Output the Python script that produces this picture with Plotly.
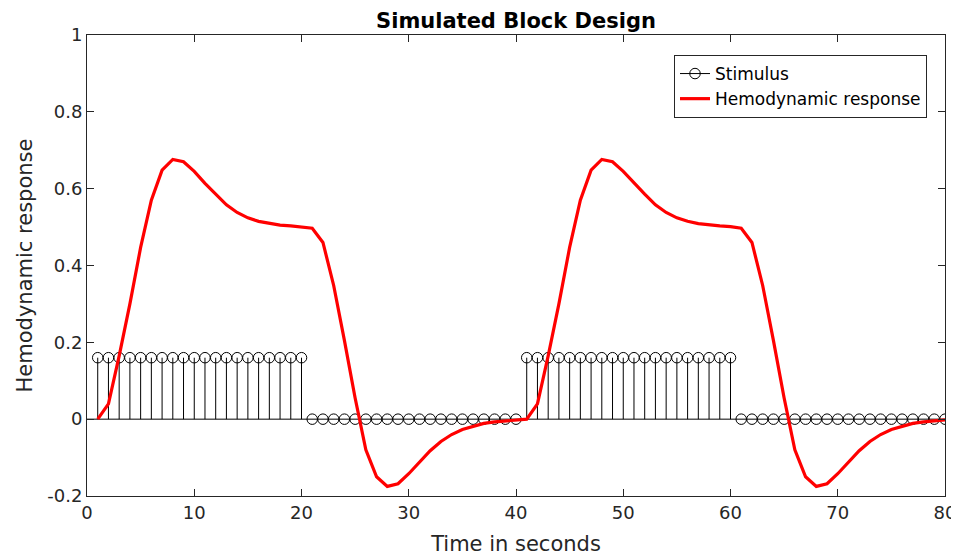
import plotly.graph_objects as go

# ---- data ----
time_s = [1, 2, 3, 4, 5, 6, 7, 8, 9, 10, 11, 12, 13, 14, 15, 16, 17, 18, 19, 20,
          21, 22, 23, 24, 25, 26, 27, 28, 29, 30, 31, 32, 33, 34, 35, 36, 37, 38, 39, 40,
          41, 42, 43, 44, 45, 46, 47, 48, 49, 50, 51, 52, 53, 54, 55, 56, 57, 58, 59, 60,
          61, 62, 63, 64, 65, 66, 67, 68, 69, 70, 71, 72, 73, 74, 75, 76, 77, 78, 79, 80]

stimulus = [0.16, 0.16, 0.16, 0.16, 0.16, 0.16, 0.16, 0.16, 0.16, 0.16,
            0.16, 0.16, 0.16, 0.16, 0.16, 0.16, 0.16, 0.16, 0.16, 0.16,
            0, 0, 0, 0, 0, 0, 0, 0, 0, 0,
            0, 0, 0, 0, 0, 0, 0, 0, 0, 0,
            0.16, 0.16, 0.16, 0.16, 0.16, 0.16, 0.16, 0.16, 0.16, 0.16,
            0.16, 0.16, 0.16, 0.16, 0.16, 0.16, 0.16, 0.16, 0.16, 0.16,
            0, 0, 0, 0, 0, 0, 0, 0, 0, 0,
            0, 0, 0, 0, 0, 0, 0, 0, 0, 0]

hemodynamic = [0.000, 0.040, 0.165, 0.300, 0.447, 0.570, 0.648, 0.676, 0.670, 0.645,
               0.614, 0.586, 0.558, 0.538, 0.524, 0.515, 0.509, 0.505, 0.503, 0.501,
               0.497, 0.460, 0.348, 0.205, 0.055, -0.080, -0.150, -0.175, -0.168, -0.142,
               -0.112, -0.082, -0.058, -0.040, -0.027, -0.018, -0.011, -0.007, -0.004, -0.002,
               0.000, 0.040, 0.165, 0.300, 0.447, 0.570, 0.648, 0.676, 0.670, 0.645,
               0.614, 0.586, 0.558, 0.538, 0.524, 0.515, 0.509, 0.505, 0.503, 0.501,
               0.497, 0.460, 0.348, 0.205, 0.055, -0.080, -0.150, -0.175, -0.168, -0.142,
               -0.112, -0.082, -0.058, -0.040, -0.027, -0.018, -0.011, -0.007, -0.004, -0.002]

x_ticks = [0, 10, 20, 30, 40, 50, 60, 70, 80]
y_ticks = [-0.2, 0, 0.2, 0.4, 0.6, 0.8, 1]
y_tick_labels = ["-0.2", "0", "0.2", "0.4", "0.6", "0.8", "1"]

# ---- build stems ----
stem_x, stem_y = [], []
for t, v in zip(time_s, stimulus):
    stem_x += [t, t, None]
    stem_y += [0, v, None]

fig = go.Figure()

# baseline at y = 0 across the axis
fig.add_trace(go.Scatter(x=[x_ticks[0], x_ticks[-1]], y=[0, 0], mode="lines",
                         line=dict(color="black", width=1), showlegend=False,
                         hoverinfo="skip"))
fig.add_trace(go.Scatter(x=stem_x, y=stem_y, mode="lines",
                         line=dict(color="black", width=1), showlegend=False,
                         hoverinfo="skip"))
fig.add_trace(go.Scatter(x=time_s, y=stimulus, mode="markers",
                         marker=dict(symbol="circle-open", size=10.5,
                                     color="black", line=dict(width=1)),
                         showlegend=False))
# legend entry for stimulus
fig.add_trace(go.Scatter(x=[None], y=[None], mode="lines+markers", name="Stimulus",
                         line=dict(color="black", width=1),
                         marker=dict(symbol="circle-open", size=10.5, color="black",
                                     line=dict(width=1))))
fig.add_trace(go.Scatter(x=time_s, y=hemodynamic, mode="lines",
                         name="Hemodynamic response",
                         line=dict(color="#ff0000", width=3.2)))

axis_color = "#262626"
font_family = "DejaVu Sans"

# the page body adds an 8px offset; figure is sized to fit the 959x556 window
W, H = 951, 548
fig.update_layout(
    width=W, height=H,
    margin=dict(l=79, r=14, t=27, b=60),
    paper_bgcolor="white", plot_bgcolor="white",
    font=dict(family=font_family, color=axis_color),
    title=dict(text="<b>Simulated Block Design</b>", x=0.5, xanchor="center",
               xref="paper", y=1 - 5 / H, yanchor="top", yref="container",
               font=dict(family=font_family, size=21, color="black")),
    legend=dict(x=(927 - 87) / 858, xanchor="right", y=(496 - 55) / 461,
                yanchor="top", bgcolor="white", bordercolor="#262626",
                borderwidth=1, font=dict(family=font_family, size=17, color="black"),
                tracegroupgap=0),
    showlegend=True,
)

fig.update_xaxes(range=[0, 80], tickvals=x_ticks, ticks="inside", ticklen=7,
                 tickcolor=axis_color, showline=True, linecolor=axis_color,
                 linewidth=1, mirror="ticks", showgrid=False, zeroline=False,
                 automargin=False,
                 tickfont=dict(size=18, color=axis_color),
                 title=dict(text="Time in seconds", font=dict(size=21, color=axis_color),
                            standoff=14))
fig.update_yaxes(range=[-0.2, 1], tickvals=y_ticks, ticktext=y_tick_labels,
                 ticks="inside", ticklen=7, tickcolor=axis_color, showline=True,
                 linecolor=axis_color, linewidth=1, mirror="ticks", showgrid=False,
                 zeroline=False, automargin=False,
                 tickfont=dict(size=18, color=axis_color),
                 title=dict(text="Hemodynamic response",
                            font=dict(size=21, color=axis_color), standoff=8))

fig.write_html("out.html")
